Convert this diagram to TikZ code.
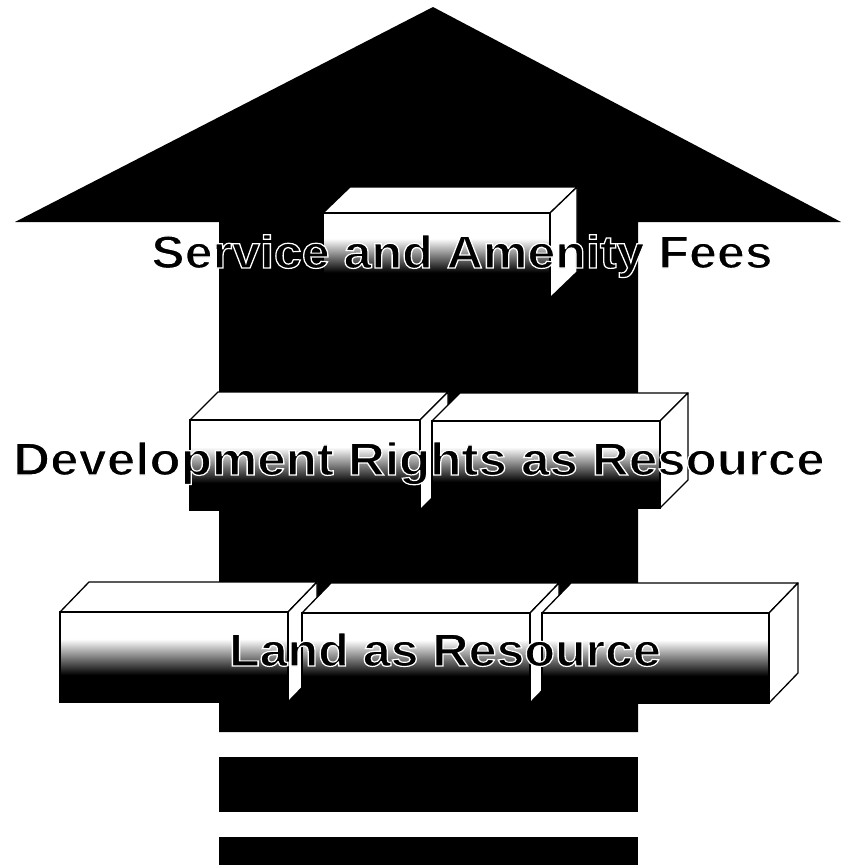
\documentclass[tikz,border=0pt]{standalone}
\usepackage{fontspec}
\setmainfont{Liberation Sans}
\pgfdeclareverticalshading{boxshade}{100bp}{color(0bp)=(black); color(40bp)=(black); color(60bp)=(white); color(100bp)=(white)}
\newcommand\outlinetext[1]{\special{pdf:literal direct 2 Tr 1 1 1 RG 1.2 w}#1\special{pdf:literal direct 0 Tr}}
% #1 left x, #2 right x, #3 top y, #4 bottom y, #5 depth dx, #6 depth dy
\newcommand\blockbox[6]{%
  \filldraw[fill=white,draw=black,line width=1.3pt,line join=round]
    (#1,#3) -- (#1+#5,#3+#6) -- (#2+#5,#3+#6) -- (#2,#3) -- cycle;
  \filldraw[fill=white,draw=black,line width=1.3pt,line join=round]
    (#2,#3) -- (#2+#5,#3+#6) -- (#2+#5,#4+#6) -- (#2,#4) -- cycle;
  \path[shading=boxshade,draw=black,line width=1.3pt] (#1,#3) rectangle (#2,#4);
}
\tikzset{
  lbl/.style={anchor=base,inner sep=0pt,text=black,font=\fontsize{46}{50}\selectfont\bfseries}
}
\begin{document}
\begin{tikzpicture}[x=1pt,y=-1pt]
\useasboundingbox[fill=white] (0,0) rectangle (843,865);
% big arrow
\fill[black] (433,7) -- (841,222) -- (638,222) -- (638,732) -- (219,732) -- (219,222) -- (15,222) -- cycle;
% bars below
\fill[black] (219,757) rectangle (638,812);
\fill[black] (219,837) rectangle (638,865);
% top block
\blockbox{323}{550}{213}{298}{27}{-26}
% middle row
\blockbox{190}{420}{420}{510}{28}{-28}
\blockbox{432}{660}{421}{508}{28}{-28}
% bottom row
\blockbox{60}{288}{612}{702}{29}{-30}
\blockbox{302}{530}{613}{703}{29}{-30}
\blockbox{542}{769}{613}{703}{29}{-30}
% labels
\node[lbl] (t1) at (462,268) {\scalebox{1.09}[1]{\outlinetext{Service and Amenity Fees}}};
\node[lbl] (t2) at (419,475) {\scalebox{1.11}[1]{\outlinetext{Development Rights as Resource}}};
\node[lbl] (t3) at (445,666) {\scalebox{1.09}[1]{\outlinetext{Land as Resource}}};
\end{tikzpicture}
\end{document}
